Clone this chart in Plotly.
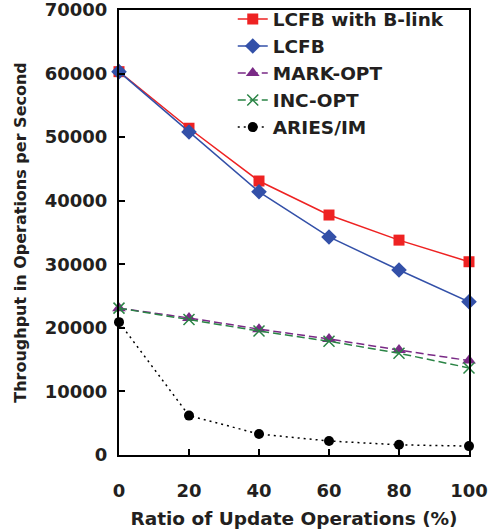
import plotly.graph_objects as go

x_vals = [0, 20, 40, 60, 80, 100]
lcfb_blink = [60300, 51400, 43100, 37750, 33800, 30400]
lcfb = [60300, 50800, 41400, 34300, 29100, 24100]
mark_opt = [23100, 21550, 19800, 18250, 16500, 14850]
inc_opt = [23100, 21300, 19500, 17900, 16000, 13700]
aries_im = [20900, 6200, 3300, 2200, 1600, 1400]
y_ticks = [0, 10000, 20000, 30000, 40000, 50000, 60000, 70000]

FONT = "DejaVu Sans"
TXT = "#231F20"

series = [
    ("LCFB with B-link", lcfb_blink, "#EE2222", "solid", "square", 11),
    ("LCFB", lcfb, "#3350A8", "solid", "diamond", 12),
    ("MARK-OPT", mark_opt, "#7A2A86", "8px,4px", "triangle-up", 12),
    ("INC-OPT", inc_opt, "#2A8445", "8px,4px", "x-thin-open", 11),
    ("ARIES/IM", aries_im, "#000000", "2px,4px", "circle", 10),
]

fig = go.Figure()
for name, ys, color, dash, sym, size in series:
    marker = dict(symbol=sym, size=size, color=color)
    if sym == "x-thin-open":
        marker["line"] = dict(color=color, width=1.5)
    fig.add_trace(go.Scatter(
        x=x_vals, y=ys, name=name, mode="lines+markers",
        line=dict(color=color, width=1.5, dash=dash),
        marker=marker, cliponaxis=False,
    ))

fig.update_layout(
    width=494, height=530,
    margin=dict(l=119, r=25, t=10, b=75, autoexpand=False),
    plot_bgcolor="white", paper_bgcolor="white",
    font=dict(family=FONT, size=18, color=TXT),
    showlegend=True,
    legend=dict(
        x=0.325, y=1.0216, xanchor="left", yanchor="top",
        bgcolor="rgba(0,0,0,0)", borderwidth=0,
        font=dict(family=FONT, size=18.5, weight="bold", color=TXT),
        tracegroupgap=0, itemwidth=30,
    ),
)
fig.update_xaxes(
    range=[0, 100], tickvals=x_vals, ticktext=[str(v) for v in x_vals],
    showgrid=False, zeroline=False,
    showline=True, linecolor="black", linewidth=2, mirror=True,
    ticks="inside", ticklen=6, tickwidth=1.5, tickcolor="black",
    ticklabelstandoff=18, ticklabeloverflow="allow",
    tickfont=dict(family=FONT, size=18, weight="bold", color=TXT),
    title=dict(text="Ratio of Update Operations (%)",
               font=dict(family=FONT, size=18.5, weight="bold", color=TXT), standoff=12),
)
fig.update_yaxes(
    range=[0, 70000], tickvals=y_ticks, ticktext=[str(v) for v in y_ticks],
    showgrid=False, zeroline=False,
    showline=True, linecolor="black", linewidth=2, mirror=True,
    ticks="inside", ticklen=6, tickwidth=1.5, tickcolor="black",
    ticklabelstandoff=6, ticklabeloverflow="allow",
    tickfont=dict(family=FONT, size=18, weight="bold", color=TXT),
    title=dict(text="Throughput in Operations per Second",
               font=dict(family=FONT, size=16, weight="bold", color=TXT), standoff=14),
)

fig.write_html("out.html")
